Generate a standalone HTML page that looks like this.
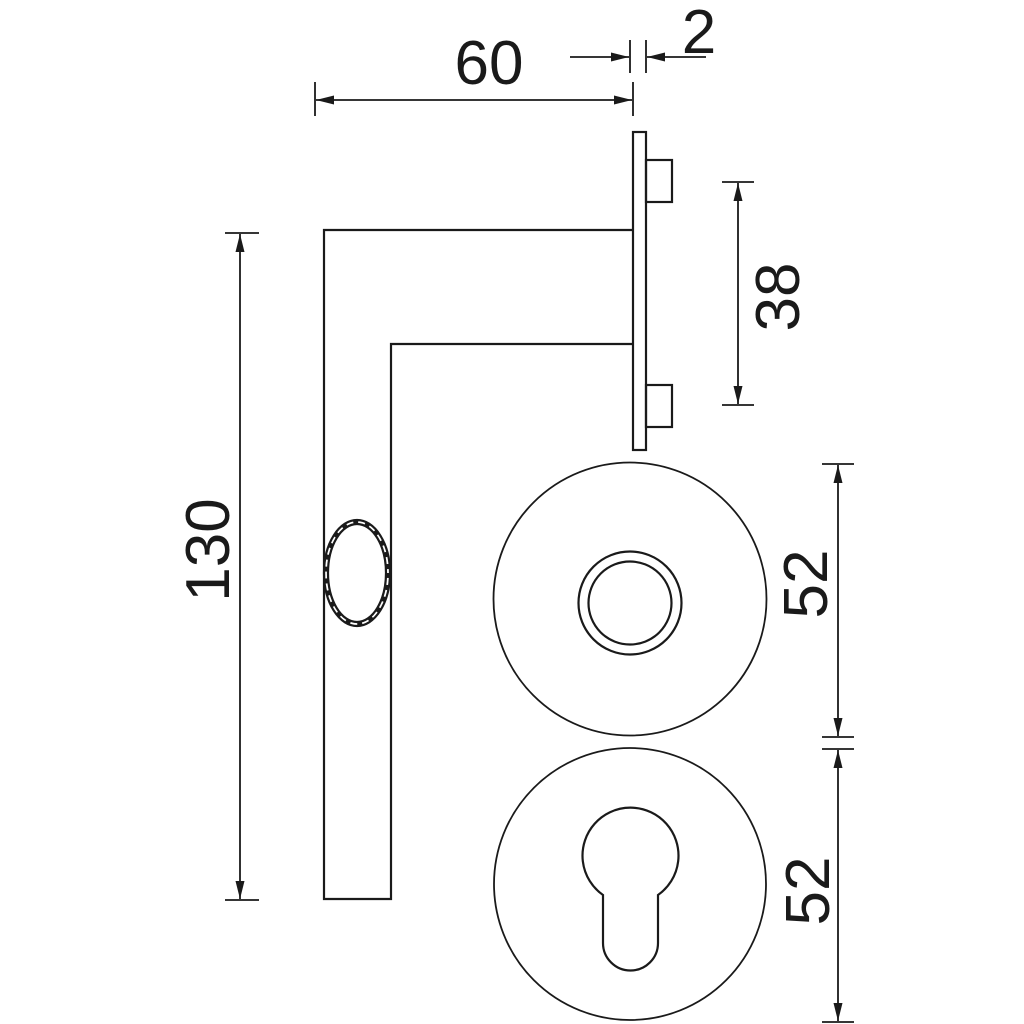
<!DOCTYPE html>
<html><head><meta charset="utf-8"><style>
html,body{margin:0;padding:0;background:#fff;}
svg{display:block;}
text{font-family:"Liberation Sans",sans-serif;fill:#1a1a1a;}
</style></head><body>
<svg width="1024" height="1024" viewBox="0 0 1024 1024" xmlns="http://www.w3.org/2000/svg">
<defs>
<marker id="a" viewBox="0 0 18 10" refX="18" refY="5" markerWidth="18" markerHeight="10" markerUnits="userSpaceOnUse" orient="auto">
<path d="M0,0.5 L18,5 L0,9.5 Z" fill="#1a1a1a"/></marker>
</defs>
<g stroke="#1a1a1a" stroke-width="2.2" fill="none">
<path d="M633,230 H324 V899 H391 V344 H633"/>
<rect x="633" y="132" width="13" height="318"/>
<rect x="646" y="160" width="26" height="42"/>
<rect x="646" y="385" width="26" height="42"/>
<ellipse cx="357" cy="573" rx="33" ry="53"/>
<ellipse cx="357" cy="573" rx="29" ry="49"/>
<ellipse cx="357" cy="573" rx="31" ry="51" stroke-width="3" stroke-dasharray="5 7"/>
<circle cx="630" cy="599" r="136.5" stroke-width="1.8"/>
<circle cx="630" cy="603" r="51.5"/>
<circle cx="630" cy="603" r="41.5"/>
<circle cx="630" cy="884" r="136" stroke-width="1.8"/>
<path d="M603,895 A48,48 0 1 1 658,895 V943 A27.5,27.5 0 0 1 603,943 Z"/>
</g>
<g stroke="#1a1a1a" stroke-width="1.8" fill="none">
<line x1="225" y1="233" x2="259" y2="233"/>
<line x1="225" y1="900" x2="259" y2="900"/>
<line x1="240" y1="450" x2="240" y2="234" marker-end="url(#a)"/>
<line x1="240" y1="450" x2="240" y2="899" marker-end="url(#a)"/>
<line x1="315" y1="82" x2="315" y2="116"/>
<line x1="633" y1="82" x2="633" y2="116"/>
<line x1="470" y1="100" x2="316" y2="100" marker-end="url(#a)"/>
<line x1="470" y1="100" x2="632" y2="100" marker-end="url(#a)"/>
<line x1="630" y1="40" x2="630" y2="73"/>
<line x1="646" y1="40" x2="646" y2="73"/>
<line x1="570" y1="57" x2="629" y2="57" marker-end="url(#a)"/>
<line x1="706" y1="57" x2="647" y2="57" marker-end="url(#a)"/>
<line x1="722" y1="182" x2="754" y2="182"/>
<line x1="722" y1="405" x2="754" y2="405"/>
<line x1="738" y1="300" x2="738" y2="183" marker-end="url(#a)"/>
<line x1="738" y1="300" x2="738" y2="404" marker-end="url(#a)"/>
<line x1="822" y1="464" x2="854" y2="464"/>
<line x1="822" y1="737" x2="854" y2="737"/>
<line x1="838" y1="600" x2="838" y2="465" marker-end="url(#a)"/>
<line x1="838" y1="600" x2="838" y2="736" marker-end="url(#a)"/>
<line x1="822" y1="749" x2="854" y2="749"/>
<line x1="822" y1="1022" x2="854" y2="1022"/>
<line x1="838" y1="885" x2="838" y2="750" marker-end="url(#a)"/>
<line x1="838" y1="885" x2="838" y2="1021" marker-end="url(#a)"/>
</g>
<g font-size="62" text-anchor="middle">
<text x="489" y="84">60</text>
<text x="699" y="53">2</text>
<text transform="translate(229,550) rotate(-90)">130</text>
<text transform="translate(799,297) rotate(-90)">38</text>
<text transform="translate(827,584) rotate(-90)">52</text>
<text transform="translate(829,891) rotate(-90)">52</text>
</g>
</svg>
</body></html>
